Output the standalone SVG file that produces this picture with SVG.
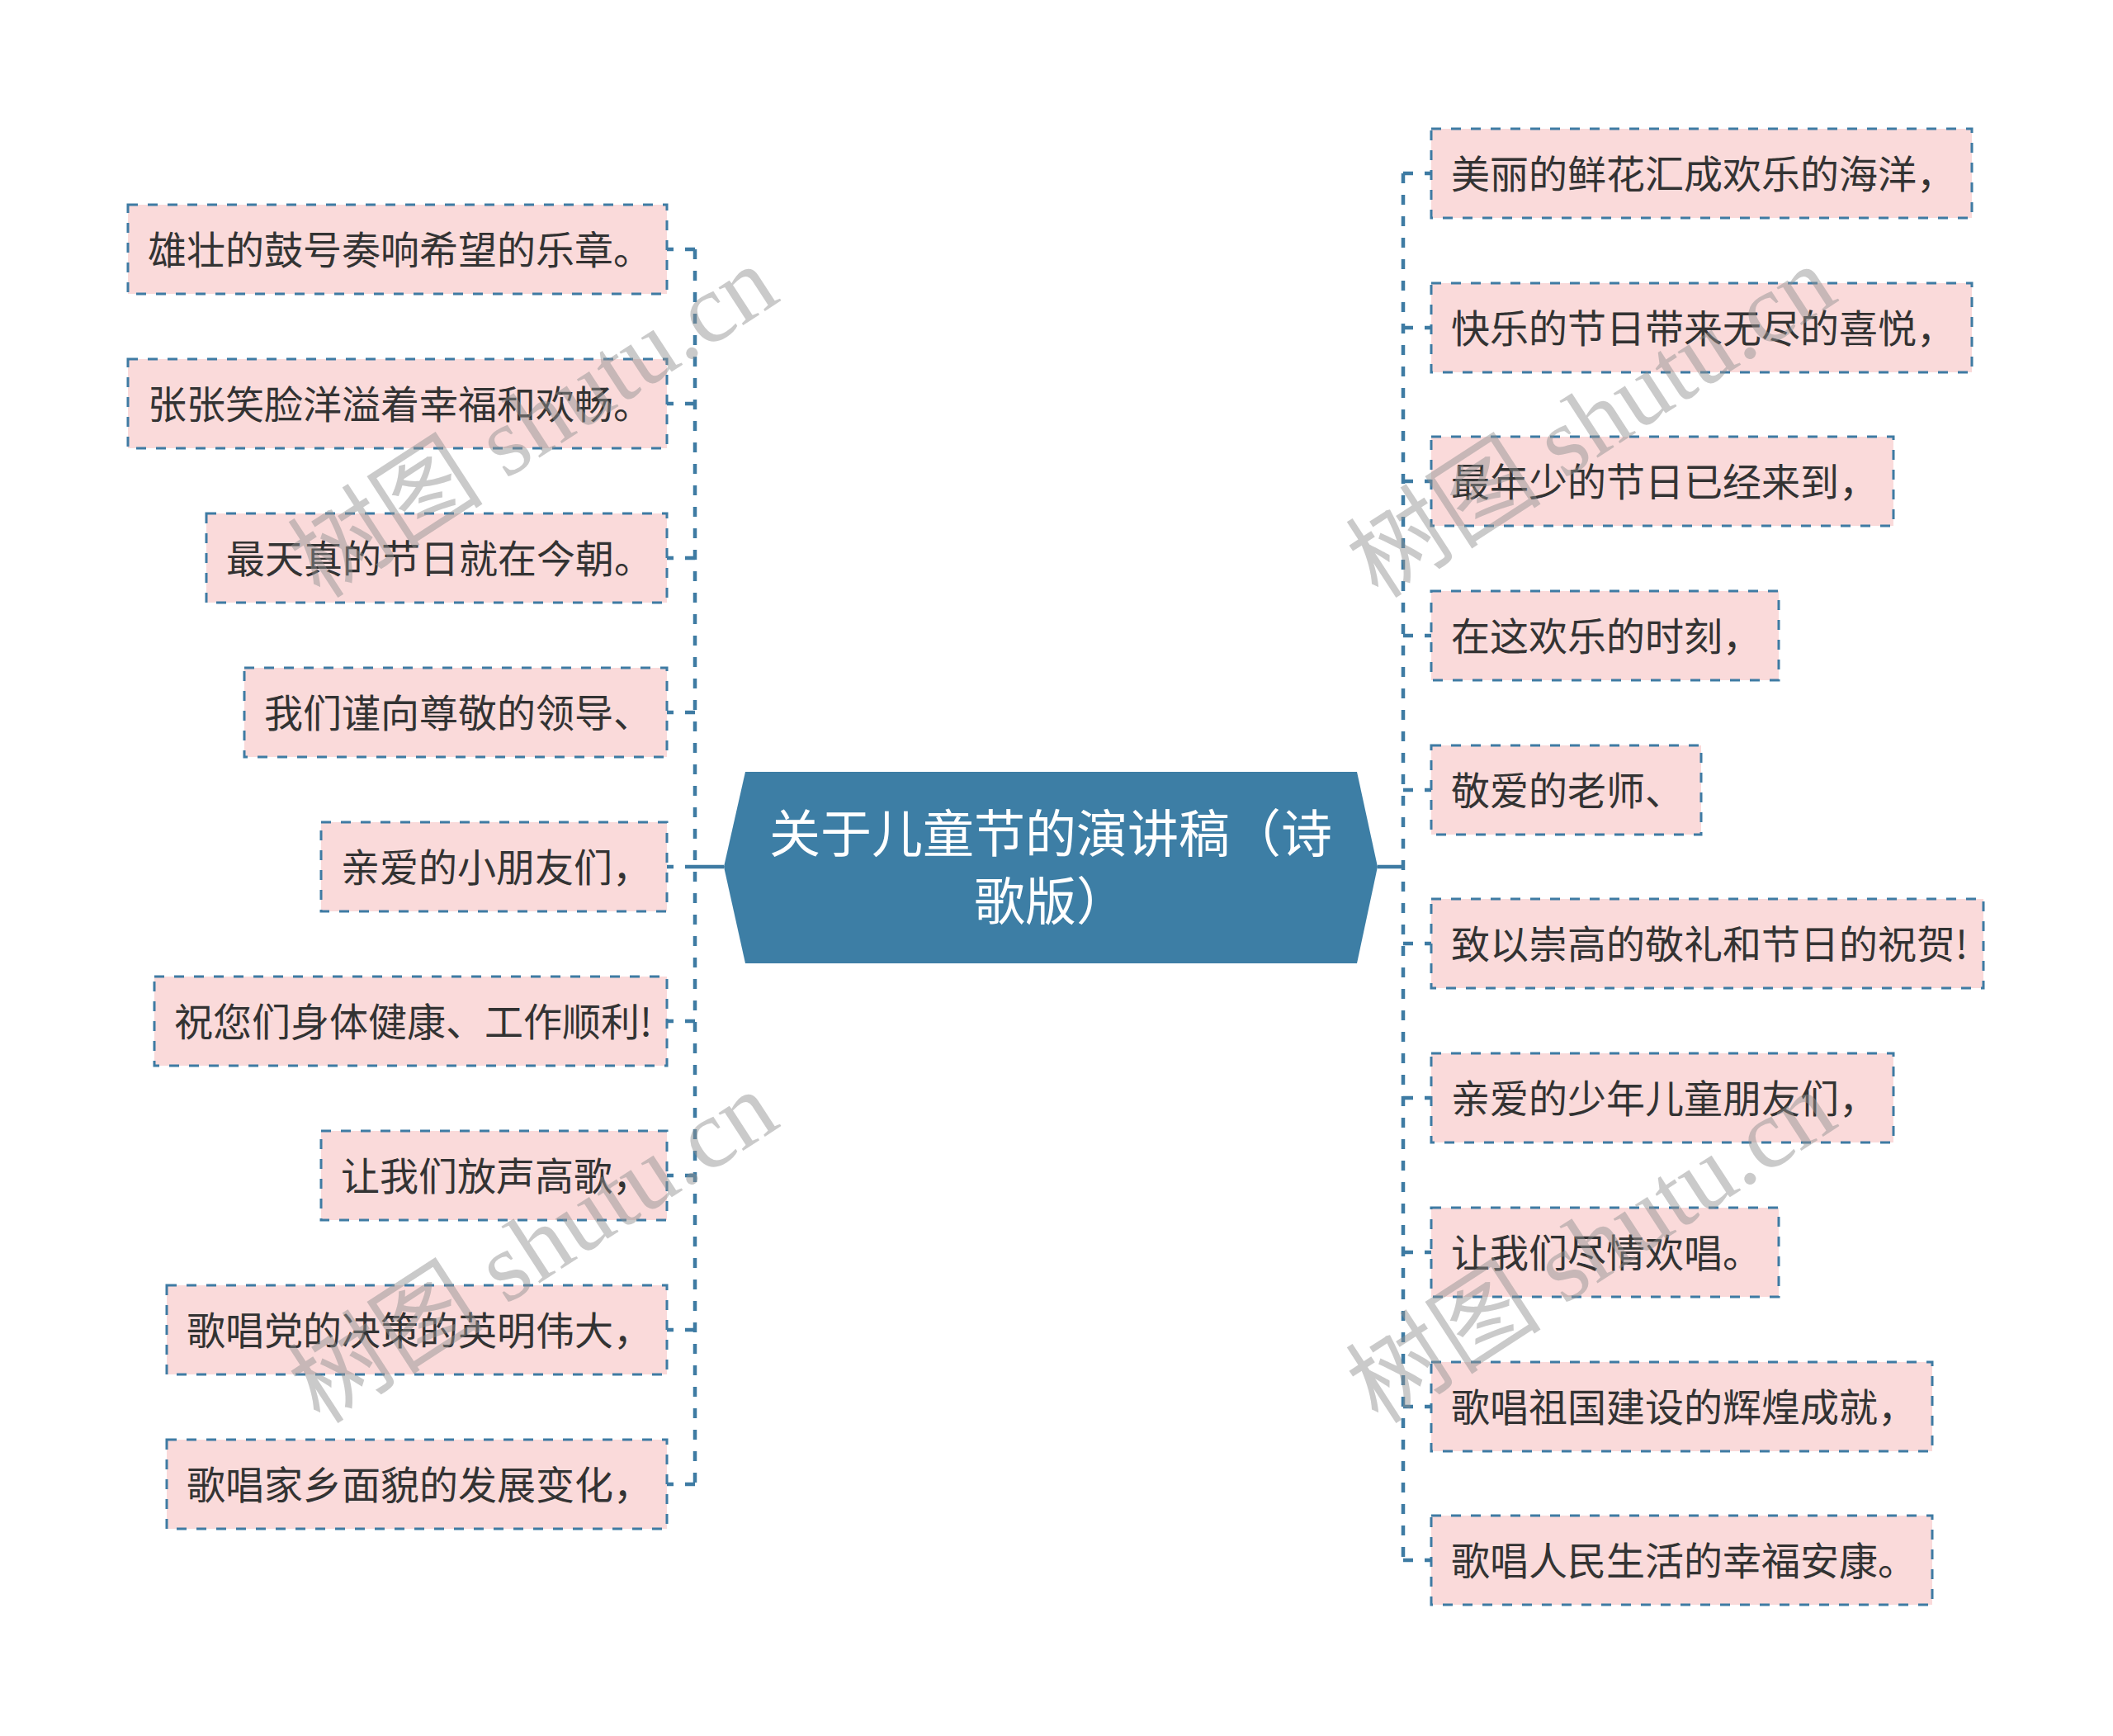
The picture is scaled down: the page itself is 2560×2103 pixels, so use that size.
<svg xmlns="http://www.w3.org/2000/svg" width="2560" height="2103" viewBox="0 0 2560 2103">
<style>
.bg{fill:#ffffff}
.box{fill:#fadada;stroke:#3e7ba3;stroke-width:3;stroke-dasharray:12 12}
.lbl{font-family:"Noto Sans CJK SC","Noto Sans",sans-serif;font-size:47px;fill:#333333;dominant-baseline:central}
.ctr{fill:#3d7ea5}
.ctxt{font-family:"Noto Sans CJK SC","Noto Sans",sans-serif;font-size:62px;fill:#ffffff;text-anchor:middle;dominant-baseline:central}
.dash{fill:none;stroke:#3e7ba3;stroke-width:4.5;stroke-dasharray:12 14}
.solid{fill:none;stroke:#3e7ba3;stroke-width:4.5}
.wm{font-family:"Liberation Serif","Noto Sans CJK SC",serif;font-size:119px;fill:#909090;fill-opacity:0.48;text-anchor:middle}
</style>
<rect class="bg" x="0" y="0" width="2560" height="2103"/>
<g id="connectors">
<line class="solid" x1="877" y1="1050" x2="842" y2="1050"/>
<line class="dash" x1="842" y1="302" x2="842" y2="1798"/>
<line class="dash" x1="842" y1="302" x2="808" y2="302"/>
<line class="dash" x1="842" y1="489" x2="808" y2="489"/>
<line class="dash" x1="842" y1="676" x2="808" y2="676"/>
<line class="dash" x1="842" y1="863" x2="808" y2="863"/>
<line class="dash" x1="842" y1="1050" x2="808" y2="1050"/>
<line class="dash" x1="842" y1="1237" x2="808" y2="1237"/>
<line class="dash" x1="842" y1="1424" x2="808" y2="1424"/>
<line class="dash" x1="842" y1="1611" x2="808" y2="1611"/>
<line class="dash" x1="842" y1="1798" x2="808" y2="1798"/>
<line class="solid" x1="1669" y1="1050" x2="1700" y2="1050"/>
<line class="dash" x1="1700" y1="210" x2="1700" y2="1890"/>
<line class="dash" x1="1700" y1="210" x2="1734" y2="210"/>
<line class="dash" x1="1700" y1="397" x2="1734" y2="397"/>
<line class="dash" x1="1700" y1="583" x2="1734" y2="583"/>
<line class="dash" x1="1700" y1="770" x2="1734" y2="770"/>
<line class="dash" x1="1700" y1="957" x2="1734" y2="957"/>
<line class="dash" x1="1700" y1="1143" x2="1734" y2="1143"/>
<line class="dash" x1="1700" y1="1330" x2="1734" y2="1330"/>
<line class="dash" x1="1700" y1="1517" x2="1734" y2="1517"/>
<line class="dash" x1="1700" y1="1704" x2="1734" y2="1704"/>
<line class="dash" x1="1700" y1="1890" x2="1734" y2="1890"/>
</g>
<g id="center">
<polygon class="ctr" points="877,1050 903,935 1644,935 1669,1050 1644,1167 903,1167"/>
<text class="ctxt" x="1273" y="1006">关于儿童节的演讲稿（诗</text>
<text class="ctxt" x="1273" y="1088">歌版）</text>
</g>
<g id="L1"><rect class="box" x="155" y="248" width="653" height="108"/><text class="lbl" x="179" y="299">雄壮的鼓号奏响希望的乐章。</text></g>
<g id="L2"><rect class="box" x="155" y="435" width="653" height="108"/><text class="lbl" x="179" y="486">张张笑脸洋溢着幸福和欢畅。</text></g>
<g id="L3"><rect class="box" x="250" y="622" width="558" height="108"/><text class="lbl" x="274" y="673">最天真的节日就在今朝。</text></g>
<g id="L4"><rect class="box" x="296" y="809" width="512" height="108"/><text class="lbl" x="320" y="860">我们谨向尊敬的领导、</text></g>
<g id="L5"><rect class="box" x="389" y="996" width="419" height="108"/><text class="lbl" x="413" y="1047">亲爱的小朋友们，</text></g>
<g id="L6"><rect class="box" x="187" y="1183" width="621" height="108"/><text class="lbl" x="211" y="1234">祝您们身体健康、工作顺利!</text></g>
<g id="L7"><rect class="box" x="389" y="1370" width="419" height="108"/><text class="lbl" x="413" y="1421">让我们放声高歌，</text></g>
<g id="L8"><rect class="box" x="202" y="1557" width="606" height="108"/><text class="lbl" x="226" y="1608">歌唱党的决策的英明伟大，</text></g>
<g id="L9"><rect class="box" x="202" y="1744" width="606" height="108"/><text class="lbl" x="226" y="1795">歌唱家乡面貌的发展变化，</text></g>
<g id="R1"><rect class="box" x="1734" y="156" width="655" height="108"/><text class="lbl" x="1758" y="207">美丽的鲜花汇成欢乐的海洋，</text></g>
<g id="R2"><rect class="box" x="1734" y="343" width="655" height="108"/><text class="lbl" x="1758" y="394">快乐的节日带来无尽的喜悦，</text></g>
<g id="R3"><rect class="box" x="1734" y="529" width="560" height="108"/><text class="lbl" x="1758" y="580">最年少的节日已经来到，</text></g>
<g id="R4"><rect class="box" x="1734" y="716" width="421" height="108"/><text class="lbl" x="1758" y="767">在这欢乐的时刻，</text></g>
<g id="R5"><rect class="box" x="1734" y="903" width="327" height="108"/><text class="lbl" x="1758" y="954">敬爱的老师、</text></g>
<g id="R6"><rect class="box" x="1734" y="1089" width="669" height="108"/><text class="lbl" x="1758" y="1140">致以崇高的敬礼和节日的祝贺!</text></g>
<g id="R7"><rect class="box" x="1734" y="1276" width="560" height="108"/><text class="lbl" x="1758" y="1327">亲爱的少年儿童朋友们，</text></g>
<g id="R8"><rect class="box" x="1734" y="1463" width="421" height="108"/><text class="lbl" x="1758" y="1514">让我们尽情欢唱。</text></g>
<g id="R9"><rect class="box" x="1734" y="1650" width="607" height="108"/><text class="lbl" x="1758" y="1701">歌唱祖国建设的辉煌成就，</text></g>
<g id="R10"><rect class="box" x="1734" y="1836" width="607" height="108"/><text class="lbl" x="1758" y="1887">歌唱人民生活的幸福安康。</text></g>
<g id="watermarks">
<text class="wm" transform="translate(668,545) rotate(-33)">树图 shutu.cn</text>
<text class="wm" transform="translate(668,1545) rotate(-33)">树图 shutu.cn</text>
<text class="wm" transform="translate(1950,545) rotate(-33)">树图 shutu.cn</text>
<text class="wm" transform="translate(1950,1545) rotate(-33)">树图 shutu.cn</text>
</g>
</svg>
